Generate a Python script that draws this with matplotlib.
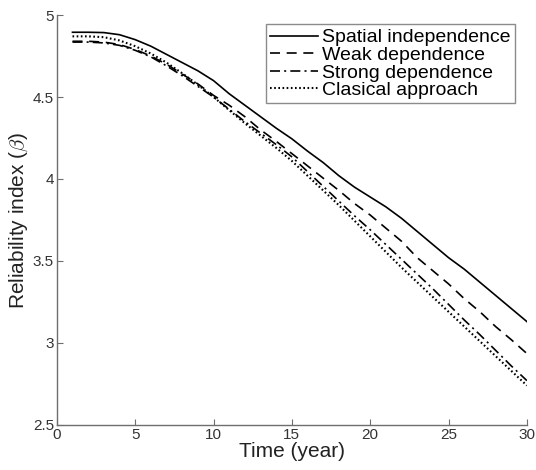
import numpy as np
import matplotlib.pyplot as plt

plt.rcParams["font.family"] = ["Liberation Sans", "DejaVu Sans"]
plt.rcParams["mathtext.fontset"] = "cm"

years = np.arange(1, 31)

spatial_indep = [4.895, 4.895, 4.893, 4.88, 4.85, 4.81, 4.76, 4.71, 4.66, 4.60,
                 4.52, 4.45, 4.38, 4.31, 4.245, 4.17, 4.10, 4.02, 3.95, 3.89,
                 3.83, 3.76, 3.68, 3.60, 3.52, 3.45, 3.37, 3.29, 3.21, 3.13]
weak_dep = [4.84, 4.84, 4.835, 4.82, 4.79, 4.75, 4.70, 4.64, 4.58, 4.51,
            4.45, 4.38, 4.30, 4.23, 4.155, 4.08, 4.005, 3.93, 3.85, 3.78,
            3.70, 3.62, 3.52, 3.44, 3.36, 3.27, 3.19, 3.10, 3.02, 2.935]
strong_dep = [4.835, 4.835, 4.83, 4.815, 4.785, 4.745, 4.69, 4.63, 4.565, 4.50,
              4.425, 4.35, 4.28, 4.21, 4.135, 4.045, 3.955, 3.865, 3.775, 3.69,
              3.60, 3.51, 3.42, 3.33, 3.235, 3.14, 3.05, 2.955, 2.86, 2.77]
classical = [4.87, 4.87, 4.865, 4.845, 4.81, 4.765, 4.71, 4.645, 4.575, 4.50,
             4.42, 4.34, 4.265, 4.19, 4.11, 4.02, 3.93, 3.84, 3.745, 3.65,
             3.555, 3.46, 3.37, 3.28, 3.19, 3.10, 3.01, 2.92, 2.83, 2.74]

labels = ["Spatial independence", "Weak dependence", "Strong dependence", "Clasical approach"]

fig = plt.figure(figsize=(5.36, 4.70), dpi=100)
ax = fig.add_axes([0.106, 0.096, 0.877, 0.872])

ax.plot(years, spatial_indep, "-", color="black", lw=1.2, label=labels[0])
ax.plot(years, weak_dep, color="black", lw=1.2, dashes=(6, 4), label=labels[1])
ax.plot(years, strong_dep, color="black", lw=1.2, dashes=(6, 2.5, 1.2, 2.5), label=labels[2])
ax.plot(years, classical, color="black", lw=1.5, dashes=(0.8, 1.2), label=labels[3])

ax.set_xlim(0, 30)
ax.set_ylim(2.5, 5)
ax.set_xticks([0, 5, 10, 15, 20, 25, 30])
ax.set_yticks([2.5, 3, 3.5, 4, 4.5, 5])
ax.set_yticklabels(["2.5", "3", "3.5", "4", "4.5", "5"])

ax.spines["top"].set_visible(False)
ax.spines["right"].set_visible(False)
for s in ["left", "bottom"]:
    ax.spines[s].set_color("#6e6e6e")
    ax.spines[s].set_linewidth(1.0)
ax.tick_params(direction="in", length=4, color="#6e6e6e", labelsize=11,
               labelcolor="#333333", pad=2)

ax.set_xlabel("Time (year)", fontsize=15, color="#222222", labelpad=0)
ax.set_ylabel(r"Reliability index ($\beta$)", fontsize=15, color="#222222", labelpad=2)

leg = ax.legend(loc="upper right", bbox_to_anchor=(0.975, 0.977), fontsize=14,
                frameon=True, fancybox=False, edgecolor="#6e6e6e",
                handlelength=2.5, handletextpad=0.2, labelspacing=0.0,
                borderpad=0.22, borderaxespad=0.0)
leg.get_frame().set_linewidth(1.0)

fig.savefig("out.png", dpi=100)
